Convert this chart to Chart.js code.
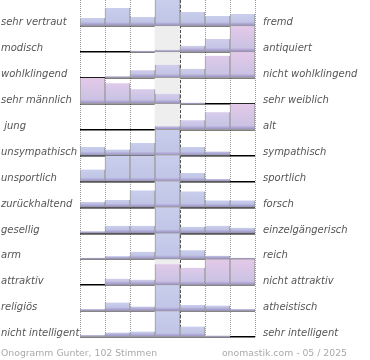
<!DOCTYPE html>
<html>
<head>
<meta charset="utf-8">
<script src="https://cdn.jsdelivr.net/npm/chart.js@4"></script>
<style>
  body { margin: 0; background: #fff; }
  #wrap { position: relative; width: 370px; height: 360px; }
  .foot { position: absolute; top: 346px; font: 9.3px "DejaVu Sans"; line-height: 13px; color: #aaa; white-space: nowrap; }
</style>
</head>
<body>
<div id="wrap">
  <canvas id="onogramm" width="370" height="360"></canvas>
  <div class="foot" style="left:1px">Onogramm Gunter, 102 Stimmen</div>
  <div class="foot" style="right:23px">onomastik.com - 05 / 2025</div>
</div>
<script>
var leftLabels = ["sehr vertraut", "modisch", "wohlklingend", "sehr männlich", " jung", "unsympathisch",
  "unsportlich", "zurückhaltend", "gesellig", "arm", "attraktiv", "religiös", "nicht intelligent"];
var rightLabels = ["fremd", "antiquiert", "nicht wohlklingend", "sehr weiblich", "alt", "sympathisch",
  "sportlich", "forsch", "einzelgängerisch", "reich", "nicht attraktiv", "atheistisch", "sehr intelligent"];
var steps = ["1", "2", "3", "4", "5", "6", "7"];

// share of votes (%) per step, one row per word pair
var votes = [
  [8, 18, 9, 30, 14, 10, 12],
  [0, 0, 1, 2, 6, 13, 48],
  [0, 1.5, 7.5, 13, 9, 22, 40],
  [49, 20.5, 14.5, 10, 1, 0, 0],
  [0, 0, 0, 3.3, 9.3, 17.3, 60],
  [8.5, 6, 12.5, 55, 8.5, 4, 0],
  [12, 27, 27, 27, 8.5, 2.5, 0],
  [5.5, 7.5, 17, 40, 16, 7, 7],
  [2, 7.5, 7.5, 60, 6.5, 7.5, 5.5],
  [1.5, 3, 7.5, 70, 9, 3.5, 1.5],
  [0, 6.5, 5.5, 21, 17.5, 27, 26],
  [2, 8.5, 4.5, 70, 6, 5.5, 2],
  [2, 4.5, 5.5, 70, 10.5, 1.5, 0]
];
// pink tint of each bar (0 blue .. 1 pink)
var tone = [
  [0, 0, 0, 0, 0, 0, 0.1],
  [0, 0, 0, 0.2, 0.3, 0.3, 1],
  [0, 0.3, 0.3, 0.3, 0.3, 0.8, 1],
  [1, 0.8, 0.6, 0.5, 0.3, 0, 0],
  [0, 0, 0, 0.4, 0.4, 0.5, 1],
  [0, 0, 0, 0, 0, 0, 0],
  [0, 0, 0, 0, 0, 0, 0],
  [0, 0, 0, 0, 0, 0, 0],
  [0, 0, 0, 0, 0, 0, 0],
  [0, 0, 0, 0, 0, 0, 0],
  [0, 0.4, 0.4, 0.9, 0.8, 1, 1],
  [0, 0, 0, 0, 0, 0, 0],
  [0, 0, 0, 0, 0, 0, 0]
];
var FULL = 26; // percent that fills one row

function hex(c) { return [1, 3, 5].map(function (i) { return parseInt(c.substr(i, 2), 16); }); }
function mix(a, b, t) {
  var x = hex(a), y = hex(b);
  return "rgb(" + x.map(function (v, i) { return Math.round(v + (y[i] - v) * t); }).join(",") + ")";
}

function barFill(ctx) {
  var chart = ctx.chart;
  if (!chart.chartArea || !ctx.raw) return "#c5c9ea";
  var ys = chart.scales.y;
  var t = tone[ctx.datasetIndex][ctx.dataIndex];
  var base = ys.getPixelForValue(ctx.raw[0]);
  var top = ys.getPixelForValue(ctx.raw[1]);
  var h = Math.max(base - top, 1);
  var g = chart.ctx.createLinearGradient(0, base, 0, top);
  var s = Math.min(4 / h, 1);
  g.addColorStop(0, "#9486c0");
  g.addColorStop(s, mix("#c1c5e6", "#cbc2e3", t));
  if (s < 1) g.addColorStop(1, mix("#c9ceec", "#e4c9e9", t));
  return g;
}

var datasets = votes.map(function (row, r) {
  return {
    data: row.map(function (v) { return v > 0 ? [r + 1, r + 1 - Math.min(v, FULL) / FULL] : null; }),
    backgroundColor: barFill,
    borderColor: "#9c9c9c",
    borderWidth: 1,
    grouped: false,
    categoryPercentage: 1,
    barPercentage: 1,
    order: 0
  };
});
// neutral middle column
datasets.push({
  data: steps.map(function (s, i) { return i === 3 ? [0, 13] : null; }),
  backgroundColor: "#eeeeee",
  borderWidth: 0,
  grouped: false,
  categoryPercentage: 1,
  barPercentage: 1,
  order: 1
});

var labelFont = { family: "DejaVu Sans", size: 10, style: "italic" };
function noPad(w) {
  return function (s) { s.width = w; s.paddingTop = 0; s.paddingBottom = 0; };
}
function noPadX(s) { s.height = 0; s.paddingLeft = 0; s.paddingRight = 0; }

new Chart(document.getElementById("onogramm"), {
  type: "bar",
  data: { labels: steps, datasets: datasets },
  options: {
    responsive: false,
    animation: false,
    layout: { padding: { left: 1, right: 0, top: -1, bottom: 23 } },
    plugins: { legend: { display: false }, tooltip: { enabled: false } },
    scales: {
      x: {
        offset: true,
        grid: { offset: true, color: "#999", drawTicks: false },
        border: { display: false, dash: [1, 1] },
        ticks: { display: false },
        afterFit: noPadX
      },
      xMid: {
        type: "category",
        position: "bottom",
        offset: true,
        z: 1,
        grid: {
          offset: true, drawTicks: false,
          color: function (c) { return c.index === 3 || c.index === 4 ? "#000" : "rgba(0,0,0,0)"; }
        },
        border: { display: false, dash: [3, 2] },
        ticks: { display: false },
        afterFit: noPadX
      },
      y: {
        position: "left",
        min: 0, max: 13, reverse: true,
        afterBuildTicks: function (s) { s.ticks = leftLabels.map(function (l, i) { return { value: i + 0.87 }; }); },
        ticks: {
          autoSkip: false, crossAlign: "far", padding: 0, color: "#555", font: labelFont,
          callback: function (v, i) { return leftLabels[i]; }
        },
        grid: { display: false },
        border: { display: false },
        afterFit: noPad(79)
      },
      yRight: {
        position: "right",
        min: 0, max: 13, reverse: true,
        afterBuildTicks: function (s) { s.ticks = rightLabels.map(function (l, i) { return { value: i + 0.87 }; }); },
        ticks: {
          autoSkip: false, padding: 0, color: "#555", font: labelFont,
          callback: function (v, i) { return rightLabels[i]; }
        },
        grid: { display: false },
        border: { display: false },
        afterFit: noPad(115)
      },
      yLine: {
        position: "left",
        min: 0, max: 13, reverse: true,
        z: 1,
        afterBuildTicks: function (s) { s.ticks = leftLabels.map(function (l, i) { return { value: i + 1 }; }); },
        ticks: { display: false },
        grid: { color: "#000", lineWidth: 1.5, drawTicks: false },
        border: { display: false },
        afterFit: noPad(0)
      }
    }
  }
});
</script>
</body>
</html>
